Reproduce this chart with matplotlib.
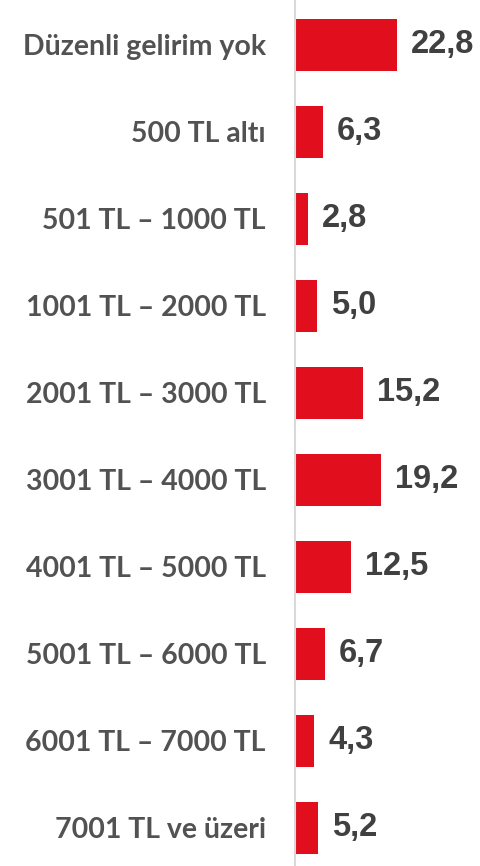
import matplotlib
matplotlib.use("Agg")
import matplotlib.pyplot as plt

categories = ["Düzenli gelirim yok", "500 TL altı", "501 TL – 1000 TL", "1001 TL – 2000 TL",
              "2001 TL – 3000 TL", "3001 TL – 4000 TL", "4001 TL – 5000 TL",
              "5001 TL – 6000 TL", "6001 TL – 7000 TL", "7001 TL ve üzeri"]
values = [22.8, 6.3, 2.8, 5.0, 15.2, 19.2, 12.5, 6.7, 4.3, 5.2]
value_labels = ["22,8", "6,3", "2,8", "5,0", "15,2", "19,2", "12,5", "6,7", "4,3", "5,2"]

fig = plt.figure(figsize=(4.8, 8.66), dpi=100)
ax = fig.add_axes([295/480, 0, 1 - 295/480, 1])

ypos = list(range(len(categories)))
ax.barh(ypos, values, height=0.6, color="#E10E1E")
ax.set_ylim(9.437, -0.517)
ax.set_xlim(0, 41.3)

ax.set_yticks(ypos)
ax.set_yticklabels(categories, fontfamily="Lato", fontweight="bold", fontsize=20.5, color="#525252")
ax.tick_params(axis="y", length=0, pad=21)
ax.set_xticks([])

for s in ["top", "right", "bottom"]:
    ax.spines[s].set_visible(False)
ax.spines["left"].set_color("#d9d9d9")
ax.spines["left"].set_linewidth(1.5)

for y, v, lab in zip(ypos, values, value_labels):
    ax.annotate(lab, xy=(v, y), xytext=(10, 0), textcoords="offset points",
                ha="left", va="center", fontsize=23.5, fontweight="bold",
                fontfamily="Liberation Sans", color="#404040")

fig.savefig("out.png", dpi=100)
